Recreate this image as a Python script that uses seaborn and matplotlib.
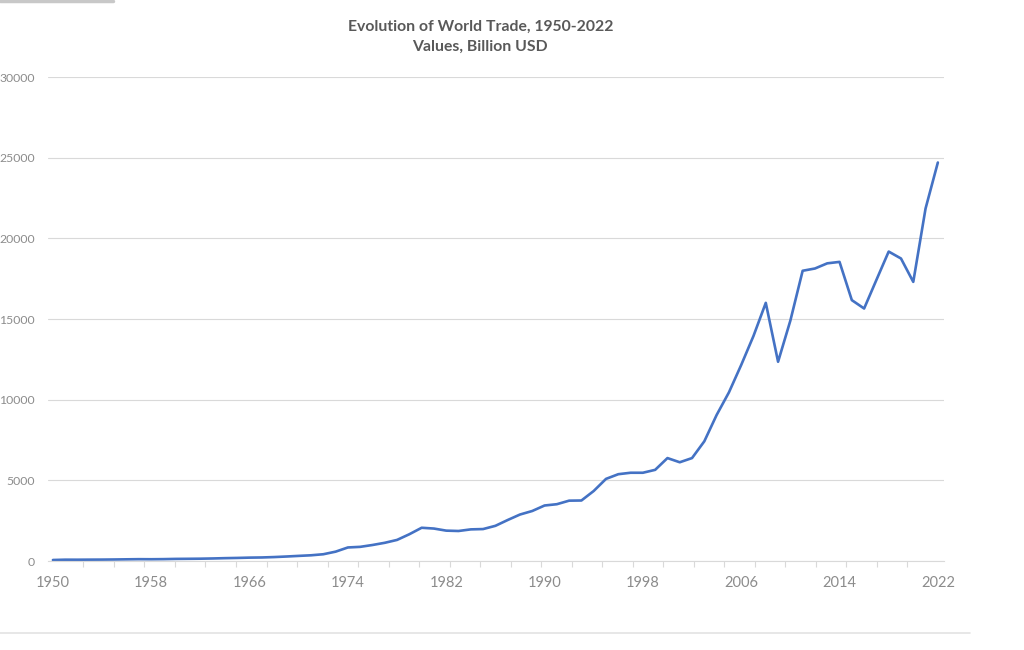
import matplotlib
matplotlib.use("Agg")
import matplotlib.pyplot as plt
from matplotlib.lines import Line2D
import numpy as np
import pandas as pd
import seaborn as sns

# world merchandise trade, billion USD
years = list(range(1950, 2023))
trade = [
    62, 82, 80, 84, 87, 94, 104, 113, 109, 116,          # 1950-1959
    130, 136, 143, 157, 176, 190, 209, 219, 244, 278,    # 1960-1969
    317, 354, 419, 579, 839, 877, 992, 1128, 1307, 1659, # 1970-1979
    2060, 2011, 1882, 1860, 1960, 1980, 2180, 2540, 2880, 3100,  # 1980-1989
    3440, 3520, 3740, 3750, 4340, 5090, 5380, 5470, 5470, 5650,  # 1990-1999
    6380, 6120, 6380, 7420, 9050, 10450, 12150, 13950, 16000, 12350,  # 2000-2009
    14900, 17990, 18130, 18450, 18540, 16170, 15650, 17420, 19180, 18750,  # 2010-2019
    17300, 21850, 24700,                                 # 2020-2022
]
year_labels = [1950, 1958, 1966, 1974, 1982, 1990, 1998, 2006, 2014, 2022]
y_ticks = [0, 5000, 10000, 15000, 20000, 25000, 30000]

df = pd.DataFrame({"year": years, "value": trade})

sns.set_theme(style="white")
plt.rcParams['font.family'] = ['Lato', 'DejaVu Sans']

fig = plt.figure(figsize=(10.24, 6.5), dpi=100)
ax = fig.add_axes([48 / 1024, 89 / 650, 896 / 1024, 484 / 650])

sns.lineplot(data=df, x="year", y="value", ax=ax, color="#4472C4", linewidth=1.9)

ax.set_xlim(1949.6, 2022.5)
ax.set_ylim(0, 30000)
ax.set_yticks(y_ticks)
ax.set_yticklabels([str(v) for v in y_ticks])
ax.set_xticks(year_labels)
ax.set_xticklabels([str(v) for v in year_labels])
ax.set_xticks(np.linspace(1950, 2022, 30), minor=True)
ax.set_xlabel("")
ax.set_ylabel("")

ax.grid(axis="y", color="#d9d9d9", linewidth=0.8)
ax.set_axisbelow(True)
for s in ["top", "right", "left"]:
    ax.spines[s].set_visible(False)
ax.spines["bottom"].set_color("#d9d9d9")
ax.spines["bottom"].set_linewidth(0.8)

ax.tick_params(axis="y", length=0, pad=9.5, labelsize=8.8, labelcolor="#8c8c8c")
ax.tick_params(axis="x", which="major", length=0, pad=11, labelsize=10.5, labelcolor="#8c8c8c")
ax.tick_params(axis="x", which="minor", length=4, width=0.8, color="#d9d9d9", direction="out")
ax.xaxis.set_tick_params(which="minor", bottom=True)

fig.text(0.469, 1 - 27 / 650, "Evolution of World Trade, 1950-2022", ha="center", va="center",
         fontsize=11.3, color="#595959", fontweight="bold")
fig.text(0.469, 1 - 47 / 650, "Values, Billion USD", ha="center", va="center",
         fontsize=11.3, color="#595959", fontweight="bold")

# screenshot frame remnants
fig.add_artist(Line2D([0, 970 / 1024], [1 - 633 / 650, 1 - 633 / 650], color="#e3e3e3", linewidth=1.2))
fig.add_artist(Line2D([0, 113 / 1024], [1 - 1 / 650, 1 - 1 / 650], color="#c8c8c8", linewidth=2.5))

fig.savefig("out.png", dpi=100)
